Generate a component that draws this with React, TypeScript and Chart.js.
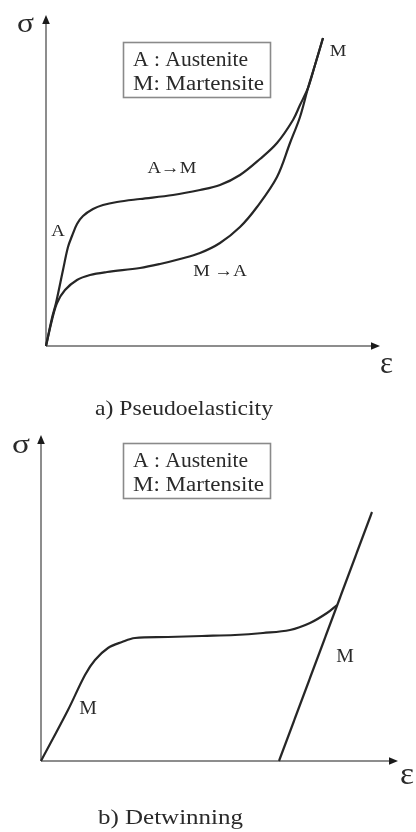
import React, { useEffect, useRef } from "react";
import { Chart, registerables } from "chart.js";

Chart.register(...registerables);

// ---------- Data (strain, stress) in arbitrary units ----------
// a) Pseudoelasticity
const PSE_LOADING: [number, number][] = [
  [0, 0], [6, 28], [10, 43], [17, 76], [22, 99], [26, 110], [31, 122], [37, 130],
  [47, 137], [57, 141], [71, 144], [94, 147], [127, 151], [154, 156], [174, 161],
  [194, 171], [214, 187], [231, 203], [247, 226], [254, 241], [262, 258], [269, 281], [277, 308],
];
const PSE_UNLOADING: [number, number][] = [
  [0, 0], [6, 26], [11, 43], [19, 56], [31, 66], [44, 71], [61, 74], [94, 78],
  [114, 82], [134, 87], [154, 93], [174, 103], [194, 119], [211, 139], [231, 169],
  [244, 203], [254, 229], [262, 258], [269, 281], [277, 308],
];
const PSE_X_MAX = 334;
const PSE_Y_MAX = 331;
const PSE_LABELS: { text: string; x: number; y: number }[] = [
  { text: "A", x: 12, y: 114 },
  { text: "A\u2192M", x: 126, y: 177 },
  { text: "M \u2192A", x: 174, y: 74 },
  { text: "M", x: 292, y: 294 },
];

// b) Detwinning
const DET_LOADING: [number, number][] = [
  [0, 0], [27, 51], [44, 86], [54, 101], [67, 113], [81, 119], [94, 123], [127, 124],
  [161, 125], [194, 126], [222, 128], [249, 131], [269, 138], [286, 148], [296, 156],
];
const DET_UNLOADING: [number, number][] = [
  [238, 0], [331, 249],
];
const DET_X_MAX = 357;
const DET_Y_MAX = 326;
const DET_LABELS: { text: string; x: number; y: number }[] = [
  { text: "M", x: 47, y: 52 },
  { text: "M", x: 304, y: 104 },
];

const LEGEND_LINES = ["A : Austenite", "M: Martensite"];
const CAPTION_A = "a) Pseudoelasticity";
const CAPTION_B = "b) Detwinning";

const CURVE = "#262626";
const AXIS = "#8d8d8d";
const TEXT = "#2a2a2a";
const SERIF = '"Liberation Serif", "Times New Roman", serif';

function drawText(
  ctx: CanvasRenderingContext2D,
  s: string,
  x: number,
  y: number,
  size: number,
  opts: { sx?: number; width?: number; align?: CanvasTextAlign; baseline?: CanvasTextBaseline } = {}
) {
  ctx.save();
  ctx.font = `${size}px ${SERIF}`;
  ctx.fillStyle = TEXT;
  ctx.textAlign = opts.align || "left";
  ctx.textBaseline = opts.baseline || "alphabetic";
  let sx = opts.sx ?? 1;
  if (opts.width) {
    const w = ctx.measureText(s).width;
    sx = opts.width / w;
  }
  ctx.translate(x, y);
  ctx.scale(sx, 1);
  ctx.fillText(s, 0, 0);
  ctx.restore();
}

type Decor = {
  labels: { text: string; x: number; y: number }[];
  labelSize: number;
  legendTop: number;
  sigma: { x: number; y: number; w: number };
  eps: { x: number; y: number; w: number };
  caption: { text: string; x: number; y: number; w: number };
};

function makeDecor(d: Decor) {
  return {
    id: "decor",
    beforeDatasetsDraw(chart: any) {
      const ctx: CanvasRenderingContext2D = chart.ctx;
      const xs = chart.scales.x;
      const ys = chart.scales.y;
      const x0 = xs.getPixelForValue(0);
      const y0 = ys.getPixelForValue(0);
      const xEnd = xs.getPixelForValue(xs.max);
      const yEnd = ys.getPixelForValue(ys.max);
      ctx.save();
      ctx.strokeStyle = AXIS;
      ctx.lineWidth = 2;
      ctx.beginPath();
      ctx.moveTo(x0, y0);
      ctx.lineTo(xEnd - 6, y0);
      ctx.moveTo(x0, y0);
      ctx.lineTo(x0, yEnd + 6);
      ctx.stroke();
      ctx.fillStyle = "#1a1a1a";
      ctx.beginPath();
      ctx.moveTo(xEnd, y0);
      ctx.lineTo(xEnd - 9, y0 - 3.8);
      ctx.lineTo(xEnd - 9, y0 + 3.8);
      ctx.closePath();
      ctx.fill();
      ctx.beginPath();
      ctx.moveTo(x0, yEnd);
      ctx.lineTo(x0 - 3.8, yEnd + 9);
      ctx.lineTo(x0 + 3.8, yEnd + 9);
      ctx.closePath();
      ctx.fill();
      ctx.restore();
    },
    afterDatasetsDraw(chart: any) {
      const ctx: CanvasRenderingContext2D = chart.ctx;
      const xs = chart.scales.x;
      const ys = chart.scales.y;
      for (const l of d.labels) {
        drawText(ctx, l.text, xs.getPixelForValue(l.x), ys.getPixelForValue(l.y), d.labelSize, {
          sx: 1.1,
          align: "center",
          baseline: "middle",
        });
      }
      // legend box
      ctx.save();
      ctx.strokeStyle = "#8a8a8a";
      ctx.lineWidth = 1.6;
      ctx.strokeRect(123.5, d.legendTop + 0.5, 147, 55);
      ctx.restore();
      drawText(ctx, LEGEND_LINES[0], 133, d.legendTop + 24, 20, { width: 115 });
      drawText(ctx, LEGEND_LINES[1], 133, d.legendTop + 48, 20, { width: 131 });
      // axis symbols
      drawText(ctx, "\u03c3", d.sigma.x, d.sigma.y, 27, { width: d.sigma.w });
      drawText(ctx, "\u03b5", d.eps.x, d.eps.y, 31, { width: d.eps.w });
      // caption
      drawText(ctx, d.caption.text, d.caption.x, d.caption.y, 21, { width: d.caption.w });
    },
  };
}

function lineDs(pts: [number, number][], smooth: boolean) {
  return {
    data: pts.map(([x, y]) => ({ x, y })),
    showLine: true,
    borderColor: CURVE,
    borderWidth: 2.2,
    pointRadius: 0,
    fill: false,
    clip: false as any,
    cubicInterpolationMode: "default" as const,
    tension: smooth ? 0.35 : 0,
    borderJoinStyle: "round" as const,
  };
}

function SchematicChart(props: {
  width: number;
  height: number;
  top: number;
  datasets: any[];
  xMax: number;
  yMax: number;
  padding: { left: number; right: number; top: number; bottom: number };
  decor: Decor;
}) {
  const ref = useRef<HTMLCanvasElement | null>(null);
  useEffect(() => {
    if (!ref.current) return;
    const chart = new Chart(ref.current, {
      type: "scatter",
      data: { datasets: props.datasets },
      options: {
        animation: false,
        responsive: false,
        maintainAspectRatio: false,
        events: [],
        layout: { padding: props.padding },
        scales: {
          x: { type: "linear", min: 0, max: props.xMax, display: false },
          y: { type: "linear", min: 0, max: props.yMax, display: false },
        },
        plugins: { legend: { display: false }, tooltip: { enabled: false } },
      },
      plugins: [makeDecor(props.decor)],
    } as any);
    return () => chart.destroy();
  }, []);
  return (
    <canvas
      ref={ref}
      width={props.width}
      height={props.height}
      style={{
        position: "absolute",
        left: 0,
        top: props.top,
        width: props.width,
        height: props.height,
        display: "block",
      }}
    />
  );
}

export default function App() {
  return (
    <div style={{ position: "absolute", left: 0, top: 0, width: 416, height: 832, background: "#fff" }}>
      <SchematicChart
        width={416}
        height={425}
        top={0}
        xMax={PSE_X_MAX}
        yMax={PSE_Y_MAX}
        padding={{ left: 46, right: 36, top: 15, bottom: 79 }}
        datasets={[lineDs(PSE_LOADING, true), lineDs(PSE_UNLOADING, true)]}
        decor={{
          labels: PSE_LABELS,
          labelSize: 17,
          legendTop: 42,
          sigma: { x: 17, y: 32, w: 17 },
          eps: { x: 380, y: 373, w: 13 },
          caption: { text: CAPTION_A, x: 95, y: 415, w: 178 },
        }}
      />
      <SchematicChart
        width={416}
        height={407}
        top={425}
        xMax={DET_X_MAX}
        yMax={DET_Y_MAX}
        padding={{ left: 41, right: 18, top: 10, bottom: 71 }}
        datasets={[lineDs(DET_LOADING, true), lineDs(DET_UNLOADING, false)]}
        decor={{
          labels: DET_LABELS,
          labelSize: 18,
          legendTop: 18,
          sigma: { x: 12, y: 28, w: 18 },
          eps: { x: 400, y: 359, w: 14 },
          caption: { text: CAPTION_B, x: 98, y: 399, w: 145 },
        }}
      />
    </div>
  );
}
